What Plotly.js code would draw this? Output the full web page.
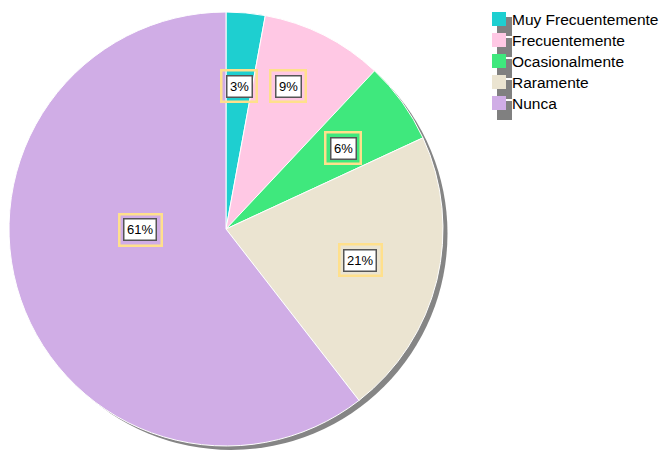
<!DOCTYPE html>
<html>
<head>
<meta charset="utf-8">
<script src="https://cdn.plot.ly/plotly-3.0.1.min.js"></script>
<style>html,body{margin:0;padding:0;background:#fff}#chart{width:660px;height:450px}</style>
</head>
<body>
<div id="chart"></div>
<script>
var categories = ["Muy Frecuentemente", "Frecuentemente", "Ocasionalmente", "Raramente", "Nunca"];
var values = [2.9, 9.1, 6.1, 21.4, 60.5];
var colors = ["#1ECFD0", "#FFC8E4", "#3FE87D", "#EBE4D1", "#D0ADE6"];
var percentLabels = ["3%", "9%", "6%", "21%", "61%"];
// label box centres in pixels (layout only)
var labelPos = [[239, 86], [288, 86], [343, 148], [360, 260], [140, 230]];

var W = 660, H = 450;
function px(x) { return x / W; }
function py(y) { return 1 - y / H; }
var FONT = "Liberation Sans, Arial, sans-serif";

var shadow = {
  type: "pie", values: [1], labels: ["shadow"], sort: false,
  marker: { colors: ["#858585"] }, textinfo: "none", hoverinfo: "skip",
  showlegend: false,
  domain: { x: [px(14.5), px(447.5)], y: [0, py(17)] }
};
var main = {
  type: "pie", values: values, labels: categories, sort: false,
  direction: "clockwise", rotation: 0,
  marker: { colors: colors, line: { color: "#ffffff", width: 1 } },
  textinfo: "none", hoverinfo: "label+percent", showlegend: false,
  domain: { x: [px(9), px(443)], y: [py(446), py(12)] }
};

var annotations = [];
var shapes = [];
percentLabels.forEach(function (t, i) {
  var p = labelPos[i];
  annotations.push({
    xref: "paper", yref: "paper", x: px(p[0]), y: py(p[1]),
    text: t, showarrow: false, font: { size: 13, color: "rgba(0,0,0,0)", family: FONT },
    bgcolor: "rgba(0,0,0,0)", bordercolor: "#FFE08C", borderwidth: 2.5, borderpad: 7,
    xanchor: "center", yanchor: "middle"
  });
  annotations.push({
    xref: "paper", yref: "paper", x: px(p[0]), y: py(p[1]),
    text: t, showarrow: false, font: { size: 13, color: "#000", family: FONT },
    bgcolor: "#ffffff", bordercolor: "#555555", borderwidth: 1.5, borderpad: 2.5,
    xanchor: "center", yanchor: "middle"
  });
});

// custom legend built from categories / colors
categories.forEach(function (c, i) {
  var top = 12 + i * 21;
  shapes.push({ type: "rect", xref: "paper", yref: "paper", layer: "above",
    x0: px(497), x1: px(512), y0: py(top + 24), y1: py(top + 5),
    fillcolor: "#808080", line: { width: 0 } });
});
categories.forEach(function (c, i) {
  var top = 12 + i * 21;
  shapes.push({ type: "rect", xref: "paper", yref: "paper", layer: "above",
    x0: px(492), x1: px(506), y0: py(top + 14), y1: py(top),
    fillcolor: colors[i], line: { width: 0 } });
  annotations.push({
    xref: "paper", yref: "paper", x: px(510), y: py(top + 7.5),
    text: c, showarrow: false, xanchor: "left", yanchor: "middle",
    font: { size: 15.5, color: "#000", family: FONT }
  });
});

var layout = {
  width: W, height: H,
  margin: { l: 0, r: 0, t: 0, b: 0, autoexpand: false },
  paper_bgcolor: "#ffffff",
  showlegend: false,
  annotations: annotations,
  shapes: shapes
};

Plotly.newPlot("chart", [shadow, main], layout, { displayModeBar: false, staticPlot: true });
</script>
</body>
</html>
